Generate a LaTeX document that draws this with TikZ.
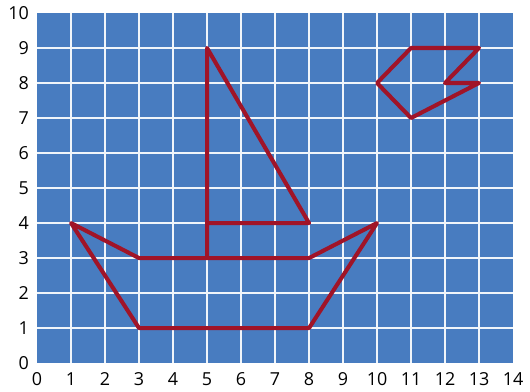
\documentclass[tikz,border=0pt]{standalone}
\usepackage{fontspec}
\setmainfont{Open Sans}
\definecolor{gridblue}{RGB}{72,124,192}
\definecolor{shapered}{RGB}{160,20,40}

\begin{document}
\begin{tikzpicture}[x=1cm,y=1.03cm]
  \useasboundingbox (-1.09,-0.8) rectangle (14.5,10.37);
  % blue paper with white lines
  \fill[gridblue] (0,0) rectangle (14,10);
  \foreach \x in {1,...,13}{\draw[white!92!gridblue,line width=1.4pt] (\x,0)--(\x,10);}
  \foreach \y in {1,...,9}{\draw[white!92!gridblue,line width=1.4pt] (0,\y)--(14,\y);}
  % axis numbers
  \foreach \x in {0,...,14}{\node[font=\fontsize{15}{17}\selectfont] at (\x,-0.45) {\x};}
  \foreach \y in {0,...,10}{\node[anchor=east,font=\fontsize{15}{17}\selectfont] at (-0.12,\y) {\y};}
  % boat: hull, mast and sail
  \draw[shapered,line width=3.4pt,line join=round] (1,4)--(3,3)--(8,3)--(10,4)--(8,1)--(3,1)--cycle;
  \draw[shapered,line width=3.4pt,line join=round] (5,3)--(5,9)--(8,4)--(5,4);
  % bird
  \draw[shapered,line width=3.4pt,line join=round] (10,8)--(11,9)--(13,9)--(12,8)--(13,8)--(11,7)--cycle;
\end{tikzpicture}
\end{document}
